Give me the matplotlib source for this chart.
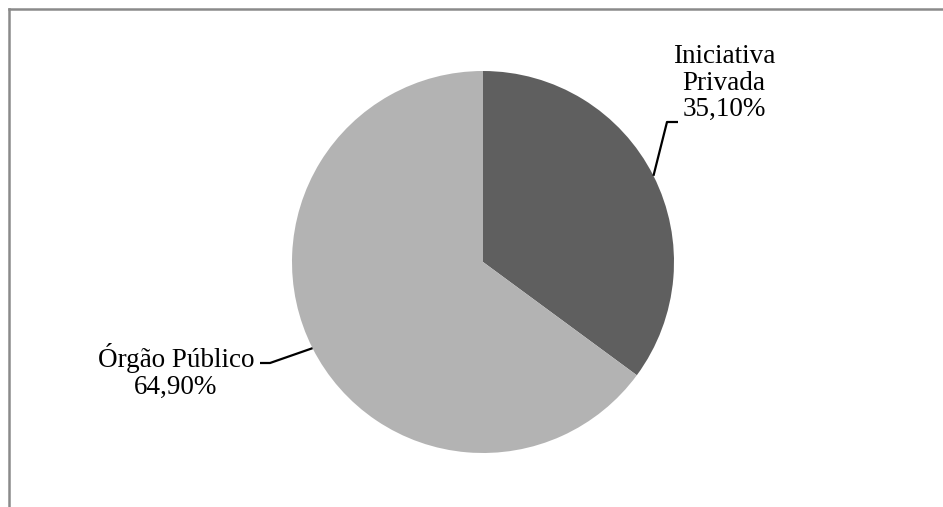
import numpy as np
import matplotlib
matplotlib.use("Agg")
from matplotlib import pyplot as plt
from matplotlib.lines import Line2D

W, H = 943, 507

labels = ["Iniciativa\nPrivada", "Órgão Público"]
shares = [35.10, 64.90]
colors = ["#5f5f5f", "#b3b3b3"]

# label placement in pixels from the top-left corner
label_xy = [(724, 83), (176, 371)]
elbow_xy = [(667, 122), (270, 363)]
tail_xy = [(678, 122), (260, 363)]

center = (483, 262)
radius = 191


def flip(p):
    return p[0], H - p[1]


fig = plt.figure(figsize=(W / 100, H / 100), dpi=100)
ax = fig.add_axes([0, 0, 1, 1])
ax.set_xlim(0, W)
ax.set_ylim(0, H)
ax.set_aspect("equal")
ax.axis("off")

cx, cy = flip(center)
ax.pie(shares, colors=colors, startangle=90, counterclock=False,
       center=(cx, cy), radius=radius, frame=True,
       wedgeprops=dict(linewidth=0))
ax.set_xlim(0, W)
ax.set_ylim(0, H)
ax.axis("off")

cum = 0.0
for i, v in enumerate(shares):
    mid = np.deg2rad(90 - 360 * (cum + v / 2) / 100)
    cum += v
    ex, ey = cx + radius * np.cos(mid), cy + radius * np.sin(mid)
    bx, by = flip(elbow_xy[i])
    tx, ty = flip(tail_xy[i])
    ax.plot([ex, bx, tx], [ey, by, ty], color="black", lw=1.6,
            solid_capstyle="butt")
    lx, ly = flip(label_xy[i])
    txt = f"{labels[i]}\n{v:.2f}%".replace(".", ",")
    ax.text(lx, ly, txt, ha="center", va="center", fontsize=19.5,
            family="Liberation Serif", linespacing=1.1, color="black")

# chart area border (left and top)
fig.add_artist(Line2D([8.5 / W, 8.5 / W], [0, 1 - 8.5 / H],
                      transform=fig.transFigure, color="#8a8a8a", lw=1.8))
fig.add_artist(Line2D([8.5 / W, 1], [1 - 8.5 / H, 1 - 8.5 / H],
                      transform=fig.transFigure, color="#8a8a8a", lw=1.8))

fig.savefig("out.png", dpi=100)
